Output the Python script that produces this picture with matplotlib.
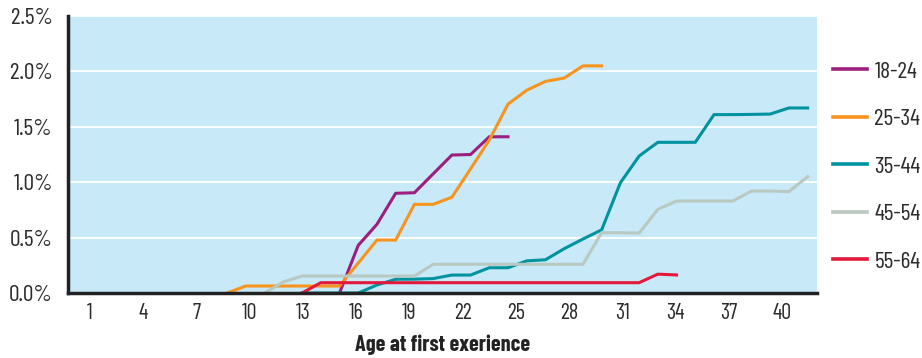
import matplotlib
matplotlib.use("Agg")
import matplotlib.pyplot as plt

plt.rcParams['font.family'] = ['Barlow Condensed', 'Roboto Condensed', 'DejaVu Sans']

# category index (0..39) on the x axis
purple_x = [14, 15, 16, 17, 18, 19, 20, 21, 22, 23]
purple_y = [0.0, 0.43, 0.62, 0.90, 0.905, 1.075, 1.245, 1.25, 1.41, 1.41]

orange_x = [8, 9, 10, 11, 12, 13, 14, 15, 16, 17, 18, 19, 20, 21, 22, 23, 24, 25, 26, 27, 28]
orange_y = [0.0, 0.063, 0.063, 0.063, 0.063, 0.063, 0.063, 0.27, 0.478, 0.478, 0.80, 0.80,
            0.864, 1.12, 1.38, 1.705, 1.83, 1.91, 1.94, 2.05, 2.05]

teal_x = list(range(12, 40))
teal_y = [0.0, 0.0, 0.0, 0.0, 0.072, 0.124, 0.125, 0.13, 0.162, 0.162, 0.228, 0.228, 0.29,
          0.30, 0.40, 0.487, 0.57, 0.995, 1.236, 1.36, 1.36, 1.36, 1.61, 1.61, 1.612,
          1.615, 1.67, 1.67]

grey_x = list(range(10, 40))
grey_y = [0.0, 0.10, 0.153, 0.153, 0.153, 0.153, 0.153, 0.153, 0.153, 0.259, 0.259, 0.259,
          0.259, 0.259, 0.259, 0.259, 0.259, 0.259, 0.544, 0.544, 0.54, 0.755, 0.83, 0.83,
          0.83, 0.83, 0.92, 0.92, 0.915, 1.05]

red_x = list(range(12, 33))
red_y = [0.0] + [0.093] * 18 + [0.17, 0.163]

series = [
    ("18-24", purple_x, purple_y, "#9C1F7F"),
    ("25-34", orange_x, orange_y, "#F7941E"),
    ("35-44", teal_x, teal_y, "#00929F"),
    ("45-54", grey_x, grey_y, "#B9C9C1"),
    ("55-64", red_x, red_y, "#E3193C"),
]

tick_ages = [1, 4, 7, 10, 13, 16, 19, 22, 25, 28, 31, 34, 37, 40]
y_ticks = [0.0, 0.5, 1.0, 1.5, 2.0, 2.5]

fig = plt.figure(figsize=(9.22, 3.58), dpi=100)
ax = fig.add_axes([68 / 922, 1 - 293 / 358, (817 - 68) / 922, (293 - 16) / 358])
ax.set_facecolor("#C8E9F8")

for yt in y_ticks[1:]:
    ax.axhline(yt, color="white", lw=1.3, zorder=1)

for label, xs, ys, c in series:
    ax.plot(xs, ys, color=c, lw=2.2, label=label, zorder=3, solid_joinstyle="miter")

ax.set_xlim(-0.5, 39.5)
ax.set_ylim(0, 2.5)

tick_pos = [0.673 + 0.9477 * (a - 1) for a in tick_ages]
ax.set_xticks(tick_pos)
ax.set_xticklabels([str(a) for a in tick_ages], fontsize=16, color="#2b2b2b")
ax.set_yticks(y_ticks)
ax.set_yticklabels([f"{v:.1f}%" for v in y_ticks], fontsize=17, color="#2b2b2b")
ax.tick_params(axis="both", length=0)
ax.tick_params(axis="y", pad=11)
ax.tick_params(axis="x", pad=7)

for s in ["top", "right"]:
    ax.spines[s].set_visible(False)
ax.spines["left"].set_linewidth(2.5)
ax.spines["bottom"].set_linewidth(2.5)
ax.spines["left"].set_color("#222222")
ax.spines["bottom"].set_color("#222222")
ax.spines["bottom"].set_zorder(4)

ax.set_xlabel("Age at first exerience", fontsize=16, fontweight="bold", color="#222222", labelpad=8)

leg = fig.legend(loc="upper left", bbox_to_anchor=(833 / 922, 1 - 61 / 358), frameon=False,
                 borderaxespad=0, borderpad=0,
                 fontsize=17, handlelength=1.45, handletextpad=0.3, labelspacing=1.1)
for t in leg.get_texts():
    t.set_color("#2b2b2b")
for h in leg.get_lines():
    h.set_linewidth(2.6)

fig.savefig("out.png", dpi=100)
